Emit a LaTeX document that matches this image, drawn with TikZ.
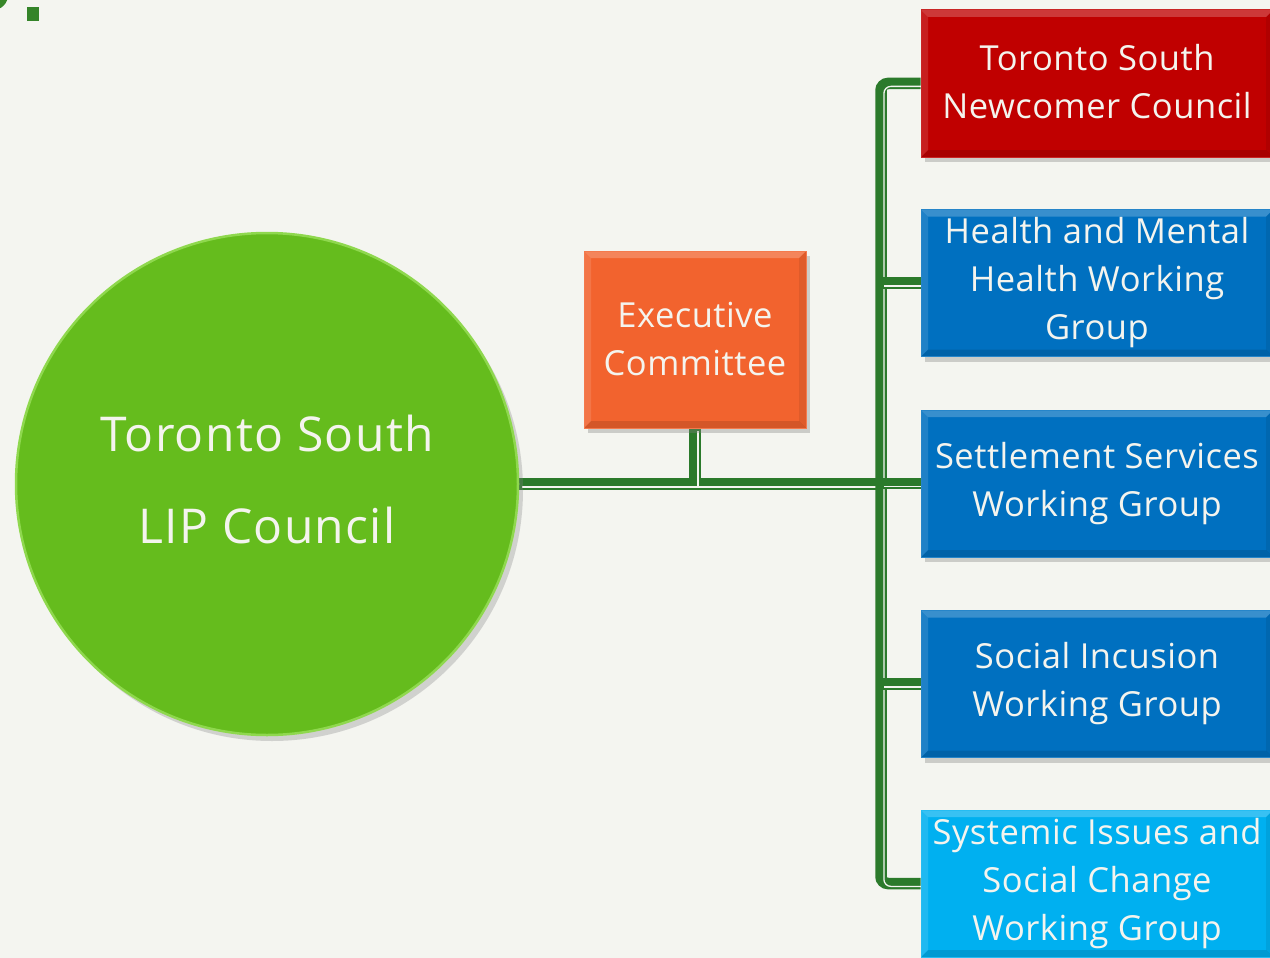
\documentclass[tikz,border=0pt]{standalone}
\usepackage{fontspec}
\setmainfont{Open Sans}
\newfontfamily\boxfont[LetterSpace=1.5]{Open Sans}
\newfontfamily\circfont[LetterSpace=2.8]{Open Sans}
\usetikzlibrary{shadows}
\pgfdeclarelayer{bgfill}
\pgfdeclarelayer{background}
\pgfsetlayers{bgfill,background,main}
\definecolor{bg}{HTML}{F4F5F0}
\definecolor{conngreen}{HTML}{2B7A2B}
\definecolor{lipgreen}{HTML}{65BC1D}
\definecolor{lipedge}{HTML}{8FD84E}
\definecolor{nred}{HTML}{C00000}
\definecolor{nblue}{HTML}{0070C0}
\definecolor{ncyan}{HTML}{00B0F0}
\definecolor{norange}{HTML}{F2632E}
\definecolor{txt}{HTML}{F4F4EE}
\tikzset{
  conn/.style={draw=conngreen, line width=11.5pt,
    postaction={draw=bg, line width=1.3pt, transform canvas={shift={(2.9pt,-2.9pt)}}}},
  bevel/.style={path picture={
    \fill[white, opacity=0.22] (path picture bounding box.north west) -- (path picture bounding box.north east)
      -- ([xshift=-7pt,yshift=-7pt]path picture bounding box.north east) -- ([xshift=7pt,yshift=-7pt]path picture bounding box.north west) -- cycle;
    \fill[white, opacity=0.12] (path picture bounding box.north west) -- (path picture bounding box.south west)
      -- ([xshift=7pt,yshift=7pt]path picture bounding box.south west) -- ([xshift=7pt,yshift=-7pt]path picture bounding box.north west) -- cycle;
    \fill[black, opacity=0.12] (path picture bounding box.south west) -- (path picture bounding box.south east)
      -- ([xshift=-7pt,yshift=7pt]path picture bounding box.south east) -- ([xshift=7pt,yshift=7pt]path picture bounding box.south west) -- cycle;
    \fill[black, opacity=0.08] (path picture bounding box.north east) -- (path picture bounding box.south east)
      -- ([xshift=-7pt,yshift=7pt]path picture bounding box.south east) -- ([xshift=-7pt,yshift=-7pt]path picture bounding box.north east) -- cycle;
  }},
  orgbox/.style={rectangle, fill=#1, draw=#1!85!white, line width=1pt, bevel,
    minimum width=352pt, minimum height=147pt, text=txt, align=center,
    font=\boxfont\fontsize{34.5}{48}\selectfont,
    drop shadow={shadow xshift=4pt, shadow yshift=-5pt, opacity=0.35}},
}
\begin{document}
\begin{tikzpicture}[x=1pt,y=-1pt]
\useasboundingbox (0,0) rectangle (1270,958);
\begin{pgfonlayer}{bgfill}
\fill[bg] (0,0) rectangle (1270,958);
\end{pgfonlayer}
\clip (0,0) rectangle (1270,958);
% remnants at top-left corner
\fill[conngreen!80!lipgreen] (-7,-5) circle[radius=15pt];
\fill[conngreen!85!lipgreen] (27,7) rectangle (39,21);
% main circle
\node[circle, fill=lipgreen, draw=lipedge, line width=2.5pt, minimum size=502pt,
  text=txt, align=center, font=\circfont\fontsize{48}{92}\selectfont,
  drop shadow={shadow xshift=5pt, shadow yshift=-6pt, opacity=0.3}]
  (lip) at (267,484) {Toronto South\\LIP Council\rule[-9pt]{0pt}{0pt}};
% executive committee
\node[orgbox=norange, minimum width=222pt, minimum height=177pt] (exec) at (695,339.5) {Executive\\Committee};
% right column
\node[orgbox=nred] (tsnc) at (1097,83.5) {Toronto South\\Newcomer Council\rule[-5pt]{0pt}{0pt}};
\node[orgbox=nblue] (hmh) at (1097,283) {Health and Mental\\Health Working\\Group};
\node[orgbox=nblue] (ssw) at (1097,483.5) {Settlement Services\\Working Group};
\node[orgbox=nblue] (siw) at (1097,684) {Social Incusion\\Working Group};
\node[orgbox=ncyan] (sis) at (1097,883.5) {Systemic Issues and\\Social Change\\Working Group};
% connectors (behind the boxes)
\begin{pgfonlayer}{background}
\coordinate (j) at (881,484);
\draw[conn] (lip.east) -- (j);
\draw[conn] (exec.south) -- (exec.south |- j);
\draw[conn, rounded corners=7pt] (tsnc.west) -| (j) |- (sis.west);
\draw[conn] (hmh.west) -- (hmh.west -| j);
\draw[conn] (ssw.west) -- (ssw.west -| j);
\draw[conn] (siw.west) -- (siw.west -| j);
\end{pgfonlayer}
\end{tikzpicture}
\end{document}
